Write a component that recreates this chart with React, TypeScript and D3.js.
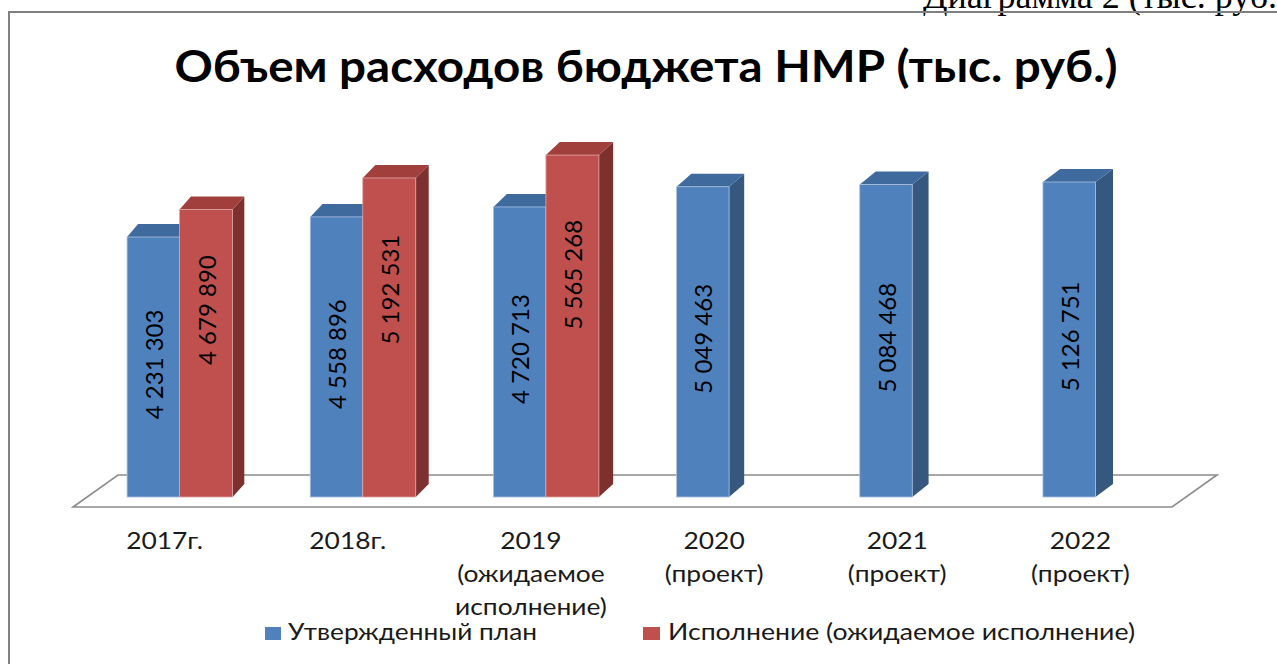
import React from "react";
import * as d3 from "d3";

const categories: string[][] = [
  ["2017г."],
  ["2018г."],
  ["2019", "(ожидаемое", "исполнение)"],
  ["2020", "(проект)"],
  ["2021", "(проект)"],
  ["2022", "(проект)"],
];
const planValues: number[] = [4231303, 4558896, 4720713, 5049463, 5084468, 5126751];
const execValues: (number | null)[] = [4679890, 5192531, 5565268, null, null, null];
const seriesNames = ["Утвержденный план", "Исполнение (ожидаемое исполнение)"];
const title = "Объем расходов бюджета НМР (тыс. руб.)";
const caption = "Диаграмма 2 (тыс. руб.)";

const W = 1277;
const H = 664;
const FONT = "Lato, 'Open Sans', sans-serif";

const colors = [
  { front: "#4F81BD", top: "#3F6A9D", side: "#36587F", edge: "#A9C0DE" },
  { front: "#C0504D", top: "#A03F3C", side: "#7D302E", edge: "#DDA5A3" },
];

const locale = d3.formatLocale({ decimal: ",", thousands: " ", grouping: [3], currency: ["", ""] });
const fmt = locale.format(",d");

export default function App() {
  const x = d3
    .scaleBand<number>()
    .domain(categories.map((_, i) => i))
    .range([73, 1172])
    .padding(0);
  const y = d3.scaleLinear().domain([0, 5126751]).range([497, 182]);
  const base = y(0);
  const dy = 13;
  const depthX = (px: number) => 11 + (px - 127) * 0.0068;

  const floor = [
    [73, 507],
    [1172, 507],
    [1217, 475],
    [118, 475],
  ];

  const bars: React.ReactNode[] = [];
  const labels: React.ReactNode[] = [];
  categories.forEach((_, i) => {
    const c = (x(i) as number) + x.bandwidth() / 2;
    const series = [
      { v: planValues[i], x0: c - 37.5, w: 52.5, s: 0, frac: 0.49 },
      { v: execValues[i], x0: c + 15, w: 53, s: 1, frac: 0.35 },
    ];
    series.forEach((b) => {
      if (b.v == null) return;
      const yt = y(b.v);
      const col = colors[b.s];
      const dxl = depthX(b.x0);
      const dxr = depthX(b.x0 + b.w);
      const x1 = b.x0 + b.w;
      bars.push(
        <g key={`b${i}-${b.s}`}>
          <polygon
            points={`${x1},${yt} ${x1 + dxr},${yt - dy} ${x1 + dxr},${base - dy} ${x1},${base}`}
            fill={col.side}
          />
          <polygon
            points={`${b.x0},${yt} ${x1},${yt} ${x1 + dxr},${yt - dy} ${b.x0 + dxl},${yt - dy}`}
            fill={col.top}
          />
          <rect x={b.x0} y={yt} width={b.w} height={base - yt} fill={col.front} stroke={col.edge} strokeWidth={0.8} />
        </g>
      );
      const ly = yt + (base - yt) * b.frac;
      const lx = b.x0 + b.w / 2;
      labels.push(
        <text
          key={`l${i}-${b.s}`}
          transform={`translate(${lx},${ly}) rotate(-90)`}
          textAnchor="middle"
          dominantBaseline="central"
          fontFamily={FONT}
          fontSize={24}
          fill="#000"
        >
          {fmt(b.v)}
        </text>
      );
    });
  });

  return (
    <div style={{ position: "fixed", left: 0, top: 0, width: W, height: H, overflow: "hidden", background: "#fff" }}>
      <svg width={W} height={H} style={{ display: "block" }}>
        <rect x={0} y={0} width={W} height={H} fill="#fff" />
        <text x={923} y={8} fontFamily="'Liberation Serif', 'DejaVu Serif', serif" fontSize={36} fill="#000">
          {caption}
        </text>
        <path d={`M9,${H + 5} L9,12 L${W + 5},12`} fill="none" stroke="#808080" strokeWidth={2} />
        <text
          x={646}
          y={82}
          textAnchor="middle"
          fontFamily={FONT}
          fontWeight={700}
          fontSize={43}
          textLength={943}
          lengthAdjust="spacingAndGlyphs"
          fill="#000"
        >
          {title}
        </text>
        <polygon points={floor.map((p) => p.join(",")).join(" ")} fill="#fff" stroke="#8C8C8C" strokeWidth={1.6} />
        {bars}
        {labels}
        {categories.map((lines, i) => {
          const c = (x(i) as number) + x.bandwidth() / 2;
          return (
            <text
              key={`c${i}`}
              transform={`translate(${c},0) scale(1.1,1)`}
              textAnchor="middle"
              fontFamily={FONT}
              fontSize={24}
              fill="#1a1a1a"
            >
              {lines.map((ln, j) => (
                <tspan key={j} x={0} y={549 + j * 33}>
                  {ln}
                </tspan>
              ))}
            </text>
          );
        })}
        <g fontFamily={FONT} fontSize={24} fill="#1a1a1a">
          <rect x={265} y={627} width={16} height={13} fill={colors[0].front} />
          <text x={288} y={640} textLength={249} lengthAdjust="spacingAndGlyphs">
            {seriesNames[0]}
          </text>
          <rect x={643} y={627} width={17} height={13} fill={colors[1].front} />
          <text x={668} y={640} textLength={467} lengthAdjust="spacingAndGlyphs">
            {seriesNames[1]}
          </text>
        </g>
      </svg>
    </div>
  );
}
